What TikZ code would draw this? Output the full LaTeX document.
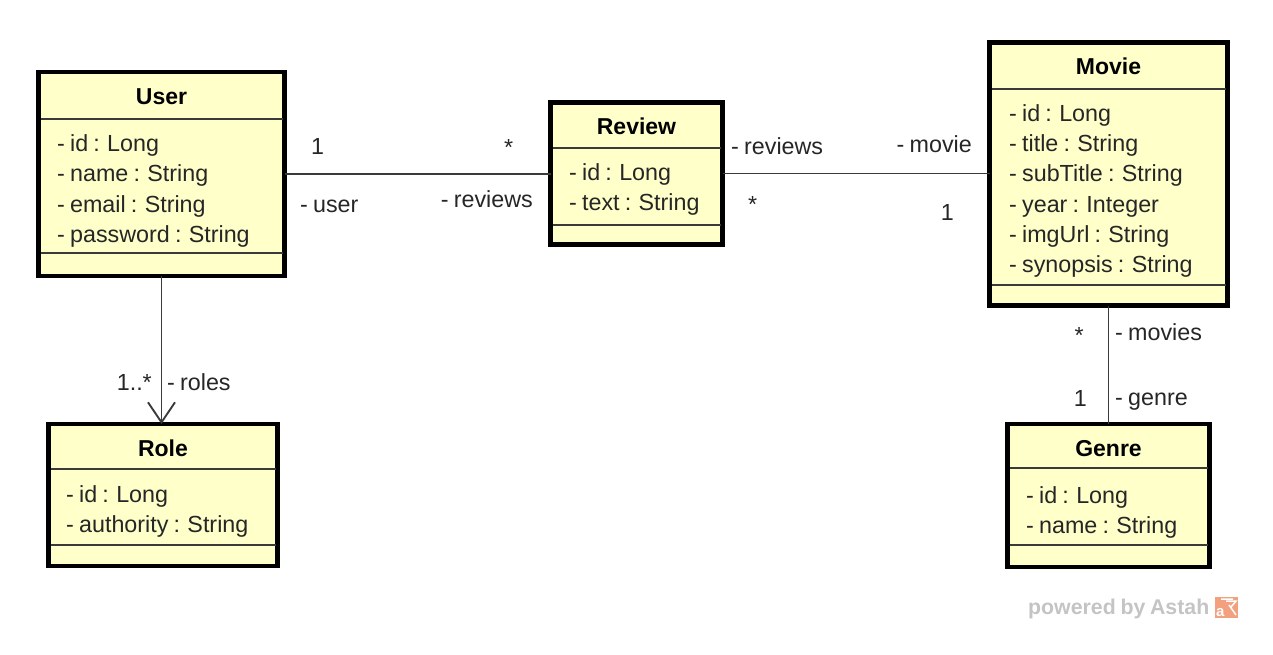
\documentclass[tikz,border=0pt]{standalone}
\usepackage{fontspec}
\setmainfont{Liberation Sans}[WordSpace=0.8]
\usetikzlibrary{arrows.meta}
\definecolor{umlfill}{HTML}{FFFFCA}
\definecolor{umltext}{HTML}{262626}
\definecolor{umlline}{HTML}{3A3A3A}
\definecolor{wmgray}{HTML}{C4C4C4}
\definecolor{wmorange}{HTML}{F2A07E}
\tikzset{
  classbox/.style={draw=black, line width=4.2pt, fill=umlfill, inner sep=0pt, outer sep=0pt, anchor=north west},
  divider/.style={draw=umlline, line width=1.6pt},
  ctitle/.style={anchor=base, inner sep=0pt, font=\fontsize{23}{26}\selectfont\bfseries, text=black},
  attr/.style={anchor=base west, inner sep=0pt, font=\fontsize{23.3}{26}\selectfont, text=umltext},
  lbl/.style={inner sep=0pt, font=\fontsize{23.3}{26}\selectfont, text=umltext},
  assoc/.style={draw=umlline, line width=1.9pt},
}
\begin{document}
\begin{tikzpicture}[x=1pt,y=-1pt]
\useasboundingbox (0,0) rectangle (1273,655);
% ---------- boxes ----------
\node[classbox, minimum width=246pt, minimum height=204pt] (user) at (38.5,72) {};
\node[classbox, minimum width=172pt, minimum height=142pt] (review) at (550.5,102.5) {};
\node[classbox, minimum width=238pt, minimum height=263pt] (movie) at (989.5,42.5) {};
\node[classbox, minimum width=229pt, minimum height=142pt] (role) at (48.5,424) {};
\node[classbox, minimum width=202pt, minimum height=143pt] (genre) at (1007.5,424) {};
% ---------- dividers ----------
\draw[divider] (40.5,119) -- (282.5,119);
\draw[divider] (40.5,253) -- (282.5,253);
\draw[divider] (552.5,148) -- (720.5,148);
\draw[divider] (552.5,225) -- (720.5,225);
\draw[divider] (991.5,89) -- (1225.5,89);
\draw[divider] (991.5,285) -- (1225.5,285);
\draw[divider] (50.5,469) -- (275.5,469);
\draw[divider] (50.5,545) -- (275.5,545);
\draw[divider] (1009.5,468) -- (1207.5,468);
\draw[divider] (1009.5,545) -- (1207.5,545);
% ---------- texts ----------
\node[ctitle] (userT) at (161.5,105) {User};
\node[attr] (u1) at (57,152) {- id : Long};
\node[attr] (u2) at (57,182) {- name : String};
\node[attr] (u3) at (57,212) {- email : String};
\node[attr] (u4) at (57,242) {- password : String};

\node[ctitle] (reviewT) at (636.5,135) {Review};
\node[attr] (r1) at (569,181) {- id : Long};
\node[attr] (r2) at (569,211) {- text : String};

\node[ctitle] (movieT) at (1108.5,75) {Movie};
\node[attr] (m1) at (1009,122) {- id : Long};
\node[attr] (m2) at (1009,152) {- title : String};
\node[attr] (m3) at (1009,182) {- subTitle : String};
\node[attr] (m4) at (1009,212) {- year : Integer};
\node[attr] (m5) at (1009,242) {- imgUrl : String};
\node[attr] (m6) at (1009,272) {- synopsis : String};

\node[ctitle] (roleT) at (163,456) {Role};
\node[attr] (ro1) at (66,502) {- id : Long};
\node[attr] (ro2) at (66,532) {- authority : String};

\node[ctitle] (genreT) at (1108.5,456) {Genre};
\node[attr] (g1) at (1026,503) {- id : Long};
\node[attr] (g2) at (1026,533) {- name : String};
% ---------- connectors ----------
\draw[assoc] (user.east) -- (user.east -| review.west);
\draw[assoc] (review.east) -- (review.east -| movie.west);
\draw[assoc, -{Straight Barb[length=20pt, width=27pt, line width=1.9pt]}] (user.south) -- (user.south |- role.north);
\draw[assoc] (movie.south) -- (genre.north);
% ---------- association labels ----------
\node[lbl, anchor=base west] (l1) at (311,155) {1};
\node[lbl, anchor=base west] (l2) at (504,156) {*};
\node[lbl, anchor=base west] (l3) at (300,212) {- user};
\node[lbl, anchor=base east] (l4) at (533,207) {- reviews};
\node[lbl, anchor=base west] (l5) at (731,155) {- reviews};
\node[lbl, anchor=base east] (l6) at (972,153) {- movie};
\node[lbl, anchor=base west] (l7) at (748,212) {*};
\node[lbl, anchor=base east] (l8) at (954,220) {1};
\node[lbl, anchor=base east] (l9) at (152,390) {1..*};
\node[lbl, anchor=base west] (l10) at (167,390) {- roles};
\node[lbl, anchor=base east] (l11) at (1084,343) {*};
\node[lbl, anchor=base west] (l12) at (1115,340) {- movies};
\node[lbl, anchor=base east] (l13) at (1087,406) {1};
\node[lbl, anchor=base west] (l14) at (1115,405) {- genre};
% ---------- watermark ----------
\node[anchor=base west, inner sep=0pt, font=\fontsize{21.3}{24}\selectfont\bfseries, text=wmgray] (wm) at (1028,614) {powered by Astah};
\node[anchor=north west, fill=wmorange, minimum width=23pt, minimum height=21pt, inner sep=0pt] (logo) at (1215,597) {};
\node[anchor=base west, inner sep=0pt, font=\fontsize{15}{15}\selectfont\bfseries, text=white] (logoA) at (1216,616) {a};
\draw[white, line width=1.5pt] (1226,601) -- (1236,601) -- (1231,607) (1229,605) -- (1236,615) (1221,599) -- (1233,599);
\end{tikzpicture}
\end{document}
